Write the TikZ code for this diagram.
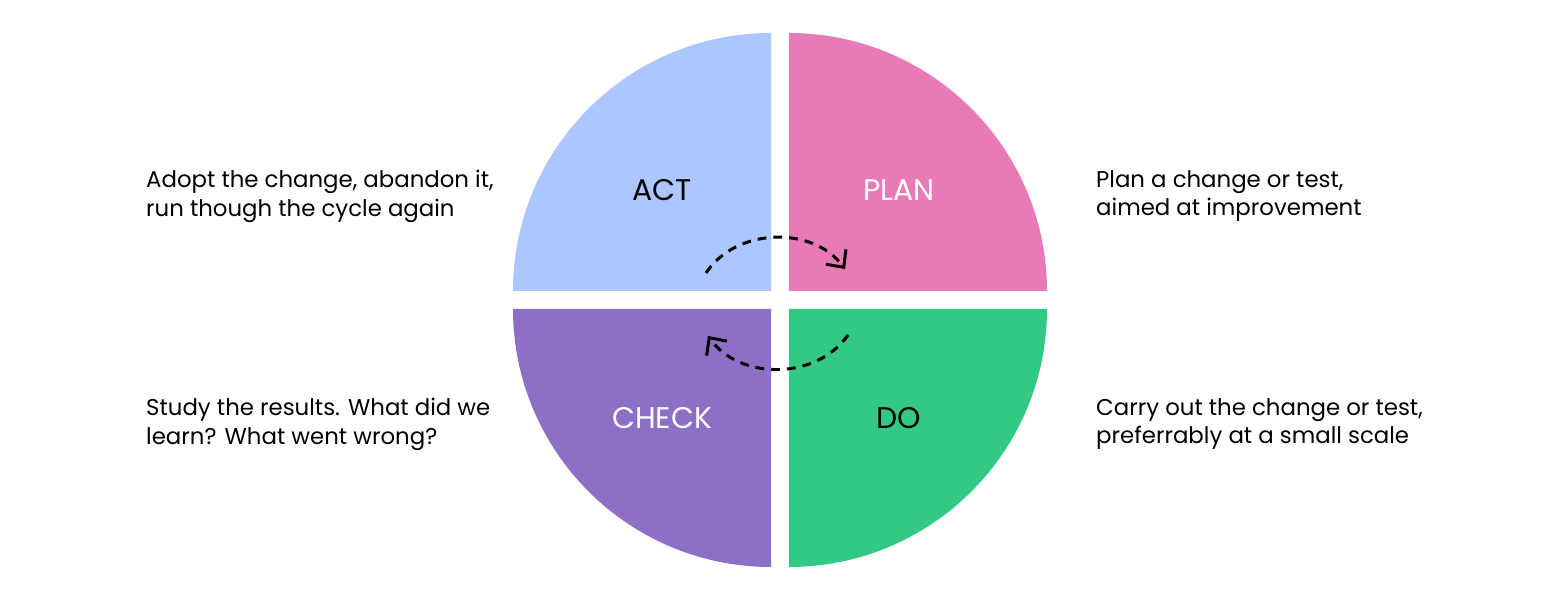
\documentclass[tikz,border=0pt]{standalone}
\usepackage{fontspec}
\setmainfont{Poppins}
\usetikzlibrary{arrows.meta}
\definecolor{actblue}{HTML}{ADC6FF}
\definecolor{planpink}{HTML}{E87AB8}
\definecolor{checkviolet}{HTML}{8E6FC6}
\definecolor{dogreen}{HTML}{32C985}
\tikzset{
  quad/.style={draw=none},
  lbl/.style={font=\fontsize{17}{20}\selectfont},
  note/.style={anchor=north west,align=left,font=\fontsize{13}{16.2}\selectfont},
  cyc/.style={line width=1.7pt,dash pattern=on 5pt off 4pt,-{Straight Barb[length=2.6mm,width=5mm,line width=1.7pt]}}
}
\begin{document}
\begin{tikzpicture}[x=0.02cm,y=0.02cm]
\useasboundingbox (0,0) rectangle (1560,601);
% quadrants
\fill[actblue] (771,310) -- (513,310) arc (180:90:258) -- cycle;
\fill[planpink] (789,310) -- (789,568) arc (90:0:258) -- cycle;
\fill[checkviolet] (771,292) -- (513,292) arc (180:270:258) -- cycle;
\fill[dogreen] (789,292) -- (789,34) arc (270:360:258) -- cycle;

\node[lbl] (act) at (662,411) {ACT};
\node[lbl,white] (plan) at (899,411) {PLAN};
\node[lbl,white] (check) at (662,183) {CHECK};
\node[lbl] (do) at (899,183) {DO};

\node[note] (actnote) at (140,437) {Adopt the change, abandon it,\\run though the cycle again};
\node[note] (plannote) at (1090,437) {Plan a change or test,\\aimed at improvement};
\node[note] (checknote) at (140,209) {Study the results. What did we\\learn? What went wrong?};
\node[note] (donote) at (1090,209) {Carry out the change or test,\\preferrably at a small scale};

% cycle arrows
\coordinate (a1) at (706,328);
\coordinate (a2) at (845,332);
\coordinate (b1) at (848,266);
\coordinate (b2) at (708,265);
\draw[cyc] (a1) to[bend left=55] (a2);
\draw[cyc] (b1) to[bend left=55] (b2);
\end{tikzpicture}
\end{document}
